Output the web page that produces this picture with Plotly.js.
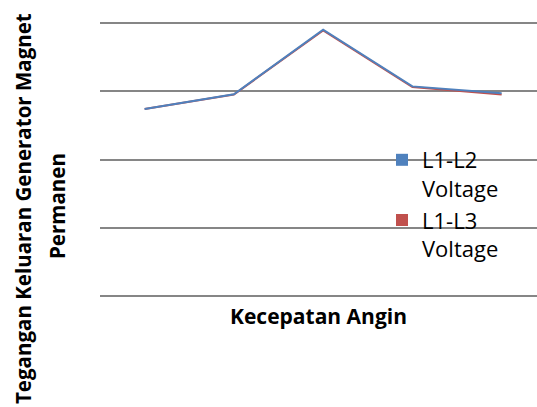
<!DOCTYPE html>
<html>
<head>
<meta charset="utf-8">
<script src="https://cdn.plot.ly/plotly-3.0.1.min.js"></script>
<style>html,body{margin:0;padding:0;background:#fff;overflow:hidden}#chart{width:537px;height:407px}</style>
</head>
<body>
<div id="chart"></div>
<script>
// Data
var categories = ["1", "2", "3", "4", "5"];
var l1l2Voltage = [2.74, 2.955, 3.90, 3.07, 2.97];
var l1l3Voltage = [2.74, 2.95, 3.89, 3.06, 2.95];
var seriesNames = ["L1-L2<br>Voltage", "L1-L3<br>Voltage"];
var seriesColors = ["#4F81BD", "#C0504D"];
var xTitle = "Kecepatan Angin";
var yTitleLines = ["Tegangan Keluaran Generator Magnet", "Permanen"];

var traces = [
  {type: "scatter", mode: "lines", x: categories, y: l1l3Voltage, name: seriesNames[1],
   line: {color: seriesColors[1], width: 2}, showlegend: false, hoverinfo: "skip"},
  {type: "scatter", mode: "lines", x: categories, y: l1l2Voltage, name: seriesNames[0],
   line: {color: seriesColors[0], width: 2}, showlegend: false, hoverinfo: "skip"},
  // legend keys (square swatches) drawn on a hidden axis so only their legend entries show
  {type: "bar", x: categories, y: l1l2Voltage, yaxis: "y2", name: seriesNames[0],
   marker: {color: seriesColors[0]}, showlegend: true},
  {type: "bar", x: categories, y: l1l3Voltage, yaxis: "y2", name: seriesNames[1],
   marker: {color: seriesColors[1]}, showlegend: true}
];

var L = 100, T = 16, B = 104;
var plotW = 537 - L, plotH = 407 - T - B;
function px(x) { return (x - L) / plotW; }
function py(y) { return (407 - B - y) / plotH; }

var layout = {
  width: 537, height: 407,
  margin: {l: L, r: 0, t: T, b: B, pad: 0},
  paper_bgcolor: "#ffffff", plot_bgcolor: "#ffffff",
  font: {family: "Open Sans, sans-serif", color: "#000000"},
  showlegend: true,
  xaxis: {type: "category", range: [-0.5, 4.396], showgrid: false, zeroline: false,
          showline: false, showticklabels: false, ticks: "", fixedrange: true},
  yaxis: {range: [-0.1, 4.1], tickvals: [0, 1, 2, 3, 4], showgrid: true, gridcolor: "#868686", gridwidth: 2,
          zeroline: false, showline: false, showticklabels: false, ticks: "", fixedrange: true},
  yaxis2: {overlaying: "y", range: [100, 101], visible: false, showgrid: false, zeroline: false, fixedrange: true},
  legend: {x: px(382), y: py(139), xanchor: "left", yanchor: "top", bgcolor: "rgba(0,0,0,0)",
           font: {family: "Open Sans, sans-serif", size: 22, color: "#000000"},
           valign: "top", tracegroupgap: 0, traceorder: "normal"},
  annotations: [
    {text: xTitle, xref: "paper", yref: "paper", x: 0.5, y: py(316), xanchor: "center", yanchor: "middle",
     showarrow: false, font: {family: "Open Sans, sans-serif", size: 21, color: "#000000", weight: "bold"}},
    {text: yTitleLines[0], xref: "paper", yref: "paper", x: px(23), y: py(209), xanchor: "center", yanchor: "middle",
     textangle: -90, showarrow: false, font: {family: "Open Sans, sans-serif", size: 20.5, color: "#000000", weight: "bold"}},
    {text: yTitleLines[1], xref: "paper", yref: "paper", x: px(57), y: py(206), xanchor: "center", yanchor: "middle",
     textangle: -90, showarrow: false, font: {family: "Open Sans, sans-serif", size: 20.5, color: "#000000", weight: "bold"}}
  ]
};

Plotly.newPlot("chart", traces, layout, {displayModeBar: false, staticPlot: true});
</script>
</body>
</html>
